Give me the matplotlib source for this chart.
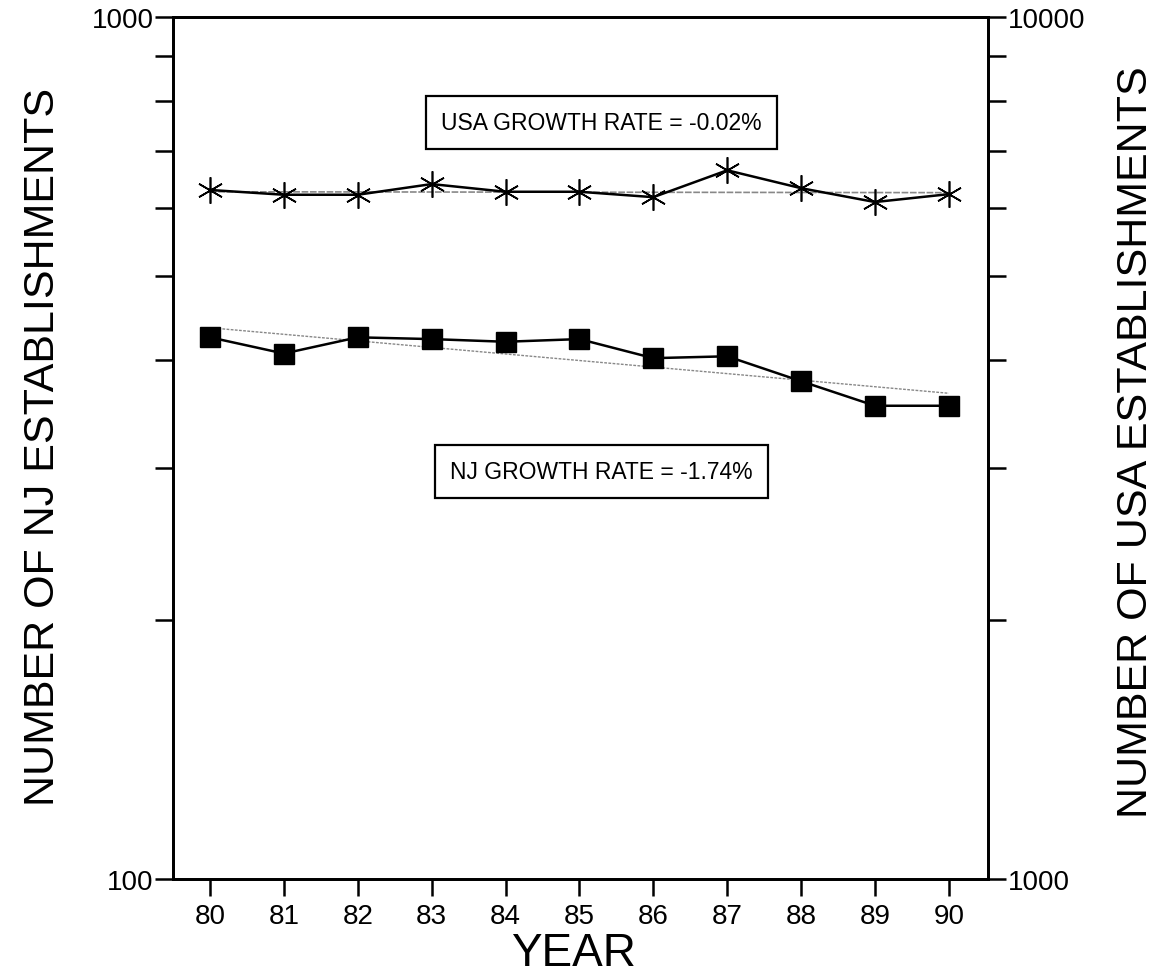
import matplotlib.pyplot as plt
from matplotlib.ticker import FixedLocator, NullFormatter, LogLocator

plt.rcParams['font.family'] = ['Liberation Sans', 'DejaVu Sans']

# Data
years = [80, 81, 82, 83, 84, 85, 86, 87, 88, 89, 90]
nj_counts = [425, 407, 425, 423, 420, 423, 402, 404, 378, 354, 354]
usa_counts = [6300, 6220, 6220, 6400, 6270, 6270, 6180, 6640, 6330, 6100, 6230]
trend_years = [80, 90]
nj_trend = [436, 366]
usa_trend = [6270, 6255]
nj_label = 'NJ GROWTH RATE = -1.74%'
usa_label = 'USA GROWTH RATE = -0.02%'

fig = plt.figure(figsize=(11.65, 9.78), dpi=100)
ax = fig.add_axes([0.1485, 0.1002, 0.6996, 0.8814])
ax2 = ax.twinx()

# NJ on the left axis
ax.plot(trend_years, nj_trend, color='#888888', lw=1.0, ls=(0, (2, 1)))
ax.plot(years, nj_counts, color='black', lw=1.8, marker='s', markersize=15,
        markerfacecolor='black', markeredgecolor='black')

# USA on the right axis
ax2.plot(trend_years, usa_trend, color='#888888', lw=1.2, ls=(0, (4, 1)))
ax2.plot(years, usa_counts, color='black', lw=1.8, marker=(6, 2, 0), markersize=19,
         markeredgewidth=1.2, markeredgecolor='black')

for a, lo, hi in [(ax, 100, 1000), (ax2, 1000, 10000)]:
    a.set_yscale('log')
    a.set_ylim(lo, hi)
    a.yaxis.set_major_locator(FixedLocator([lo, hi]))
    a.yaxis.set_minor_locator(LogLocator(base=10, subs=range(2, 10)))
    a.yaxis.set_minor_formatter(NullFormatter())
    a.set_yticklabels([str(lo), str(hi)])
    a.tick_params(axis='y', which='both', length=13, width=1.8, direction='out',
                  labelsize=20, pad=1)
    for s in a.spines.values():
        s.set_linewidth(2.0)

ax.set_xlim(79.5, 90.53)
ax.set_xticks(years)
ax.set_xticklabels([str(y) for y in years])
ax.tick_params(axis='x', length=12, width=1.8, direction='out', labelsize=20, pad=5)

fig.text(0.492, 0.012, 'YEAR', ha='center', va='baseline', fontsize=33)
fig.text(0.037, 0.543, 'NUMBER OF NJ ESTABLISHMENTS', rotation=90,
         ha='center', va='center', fontsize=31)
fig.text(0.975, 0.548, 'NUMBER OF USA ESTABLISHMENTS', rotation=90,
         ha='center', va='center', fontsize=31)

box = dict(boxstyle='square,pad=0.65', facecolor='white', edgecolor='black', linewidth=1.6)
ax.text(85.3, 755, usa_label, ha='center', va='center', fontsize=16.5, bbox=box)
ax.text(85.3, 297, nj_label, ha='center', va='center', fontsize=16.5, bbox=box)

fig.savefig('out.png', dpi=100)
